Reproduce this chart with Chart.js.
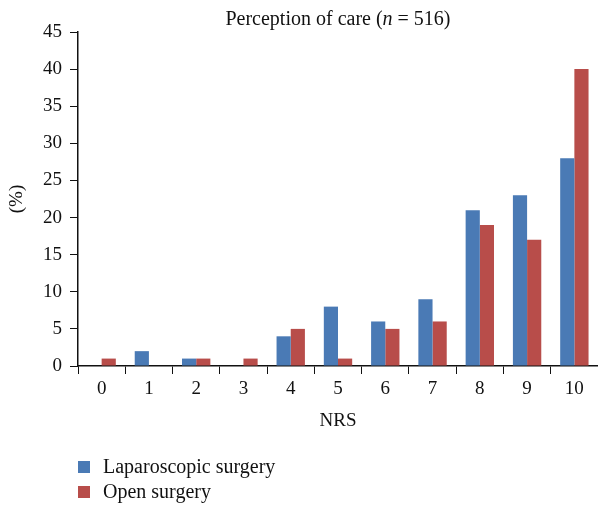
<!DOCTYPE html>
<html>
<head>
<meta charset="utf-8">
<script src="https://cdn.jsdelivr.net/npm/chart.js@4/dist/chart.umd.min.js"></script>
<style>
  body { margin: 0; background: #fff; }
  #wrap { position: relative; width: 598px; height: 505px; font-family: "Liberation Serif", serif; color: #111; }
  #title { position: absolute; top: 7px; left: 78px; width: 520px; text-align: center; font-size: 20px; }
  #legend { position: absolute; left: 78px; top: 454px; font-size: 20px; }
  #legend div { height: 25px; line-height: 25px; }
  #legend span.box { display: inline-block; width: 12px; height: 12px; margin-right: 13px; vertical-align: 0px; }
</style>
</head>
<body>
<div id="wrap">
  <canvas id="myChart" width="598" height="505"></canvas>
  <div id="title">Perception of care (<i>n</i> = 516)</div>
  <div id="legend"></div>
</div>
<script>
var categories = ["0", "1", "2", "3", "4", "5", "6", "7", "8", "9", "10"];
var laparoscopic = [0, 2, 1, 0, 4, 8, 6, 9, 21, 23, 28];
var openSurgery = [1, 0, 1, 1, 5, 1, 5, 6, 19, 17, 40];
var seriesNames = ["Laparoscopic surgery", "Open surgery"];
var colors = ["#4A7AB5", "#B84D4A"];

var font = { family: "Liberation Serif", size: 19 };
var ctx = document.getElementById("myChart").getContext("2d");

var chart = new Chart(ctx, {
  type: "bar",
  data: {
    labels: categories,
    datasets: [
      { label: seriesNames[0], backgroundColor: colors[0], data: laparoscopic },
      { label: seriesNames[1], backgroundColor: colors[1], data: openSurgery },
    ],
  },
  options: {
    responsive: false,
    animation: false,
    layout: { padding: { top: 32, bottom: 70, left: 0, right: 0 } },
    datasets: { bar: { categoryPercentage: 0.6, barPercentage: 1 } },
    plugins: { legend: { display: false }, tooltip: { enabled: false } },
    scales: {
      x: {
        grid: { drawOnChartArea: false, tickLength: 8, color: "#111", offset: true },
        border: { color: "#111", width: 1.5 },
        ticks: { color: "#111", font: font, padding: 4, maxRotation: 0 },
        title: { display: true, text: "NRS", color: "#111", font: font, padding: { top: 0, bottom: 3 } },
        afterFit: function (s) { s.height = 69; },
      },
      y: {
        min: 0,
        max: 45,
        ticks: { stepSize: 5, color: "#111", font: font, padding: 8 },
        grid: { drawOnChartArea: false, tickLength: 8, color: "#111" },
        border: { color: "#111", width: 1.5 },
        title: { display: true, text: "(%)", color: "#111", font: font, padding: { top: 6, bottom: 0 } },
        afterFit: function (s) { s.width = 78; },
      },
    },
  },
});

var legend = document.getElementById("legend");
seriesNames.forEach(function (name, i) {
  var row = document.createElement("div");
  row.innerHTML = '<span class="box" style="background:' + colors[i] + '"></span>' + name;
  legend.appendChild(row);
});
</script>
</body>
</html>
